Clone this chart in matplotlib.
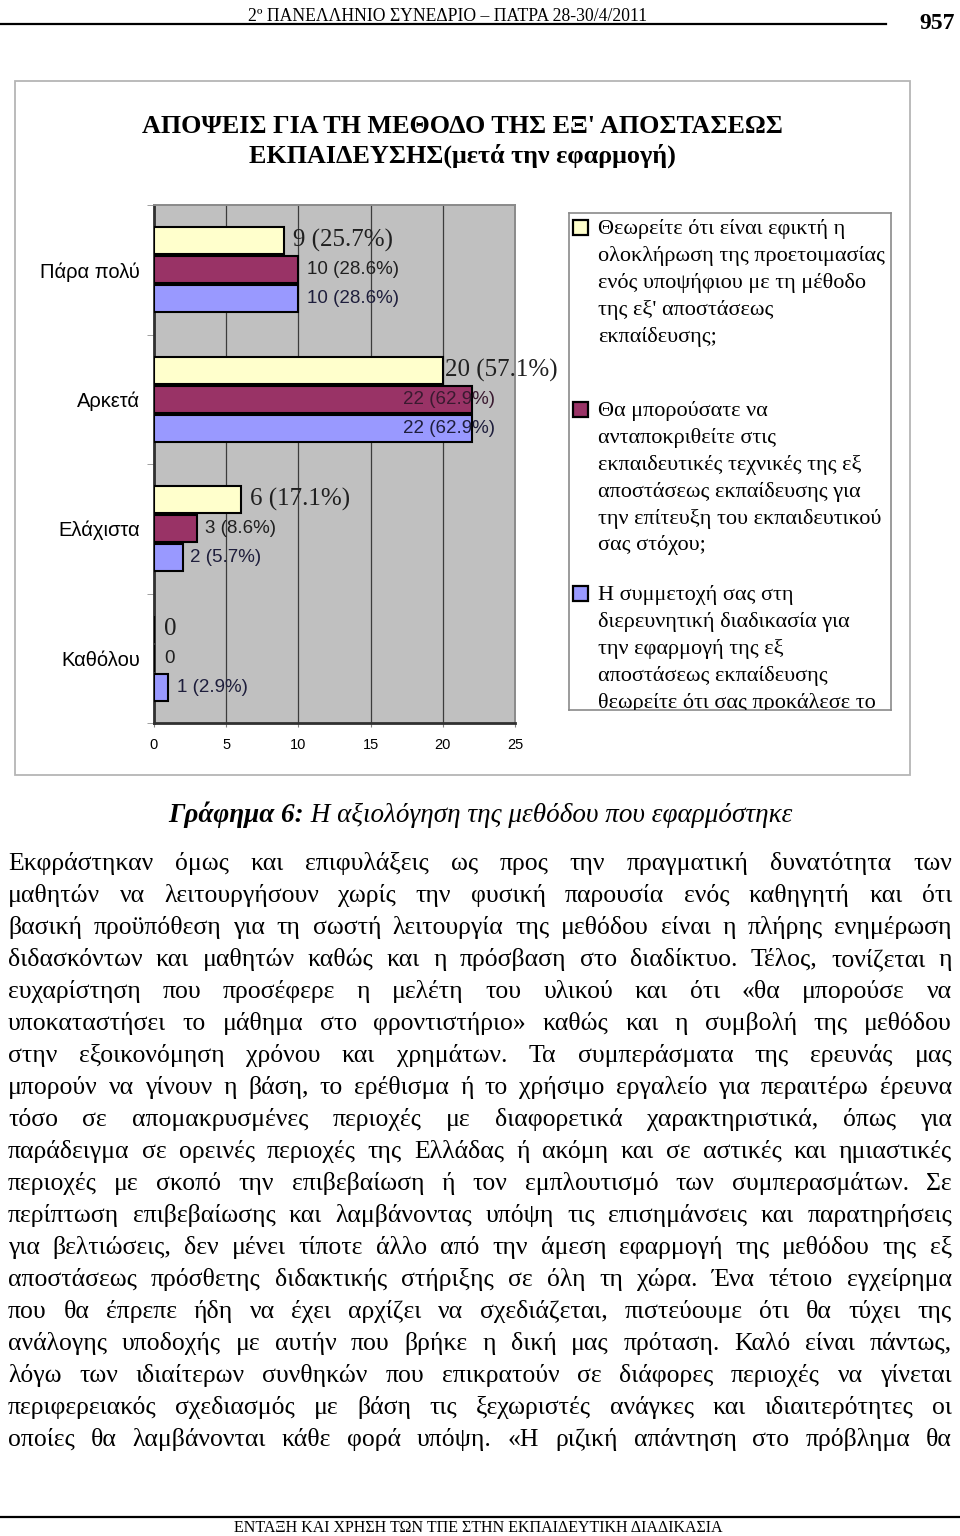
import matplotlib
matplotlib.use('Agg')
from matplotlib import pyplot as plt
from matplotlib.patches import Rectangle
from matplotlib.lines import Line2D
import numpy as np

W, H = 960, 1536
SERIF = 'Liberation Serif'
SANS = 'Liberation Sans'

# ---- chart data ----
categories = ['Πάρα πολύ', 'Αρκετά', 'Ελάχιστα', 'Καθόλου']
feasible = [9, 20, 6, 0]        # yellow series
respond = [10, 22, 3, 0]        # maroon series
challenge = [10, 22, 2, 1]      # blue series
feasible_lbl = ['9 (25.7%)', '20 (57.1%)', '6 (17.1%)', '0']
respond_lbl = ['10 (28.6%)', '22 (62.9%)', '3 (8.6%)', '0']
challenge_lbl = ['10 (28.6%)', '22 (62.9%)', '2 (5.7%)', '1 (2.9%)']
xticks = [0, 5, 10, 15, 20, 25]

chart_title = ["ΑΠΟΨΕΙΣ ΓΙΑ ΤΗ ΜΕΘΟΔΟ ΤΗΣ ΕΞ' ΑΠΟΣΤΑΣΕΩΣ",
               "ΕΚΠΑΙΔΕΥΣΗΣ(μετά την εφαρμογή)"]

legend_items = [
    ["Θεωρείτε ότι είναι εφικτή η", "ολοκλήρωση της προετοιμασίας",
     "ενός υποψήφιου με τη μέθοδο", "της εξ' αποστάσεως", "εκπαίδευσης;"],
    ["Θα μπορούσατε να", "ανταποκριθείτε στις",
     "εκπαιδευτικές τεχνικές της εξ", "αποστάσεως εκπαίδευσης για",
     "την επίτευξη του εκπαιδευτικού", "σας στόχου;"],
    ["Η συμμετοχή σας στη", "διερευνητική διαδικασία για",
     "την εφαρμογή της εξ", "αποστάσεως εκπαίδευσης",
     "θεωρείτε ότι σας προκάλεσε το"],
]

header = "2º ΠΑΝΕΛΛΗΝΙΟ ΣΥΝΕΔΡΙΟ – ΠΑΤΡΑ 28-30/4/2011"
page_no = "957"
footer = "ΕΝΤΑΞΗ ΚΑΙ ΧΡΗΣΗ ΤΩΝ ΤΠΕ ΣΤΗΝ ΕΚΠΑΙΔΕΥΤΙΚΗ ΔΙΑΔΙΚΑΣΙΑ"
caption_bold = "Γράφημα 6:"
caption_rest = " Η αξιολόγηση της μεθόδου που εφαρμόστηκε"

body_lines = [
    "Εκφράστηκαν όμως και επιφυλάξεις ως προς την πραγματική δυνατότητα των",
    "μαθητών να λειτουργήσουν χωρίς την φυσική παρουσία ενός καθηγητή και ότι",
    "βασική προϋπόθεση για τη σωστή λειτουργία της μεθόδου είναι η πλήρης ενημέρωση",
    "διδασκόντων και μαθητών καθώς και η πρόσβαση στο διαδίκτυο. Τέλος, τονίζεται η",
    "ευχαρίστηση που προσέφερε η μελέτη του υλικού και ότι «θα μπορούσε να",
    "υποκαταστήσει το μάθημα στο φροντιστήριο» καθώς και η συμβολή της μεθόδου",
    "στην εξοικονόμηση χρόνου και χρημάτων. Τα συμπεράσματα της ερευνάς μας",
    "μπορούν να γίνουν η βάση, το ερέθισμα ή το χρήσιμο εργαλείο για περαιτέρω έρευνα",
    "τόσο σε απομακρυσμένες περιοχές με διαφορετικά χαρακτηριστικά, όπως για",
    "παράδειγμα σε ορεινές περιοχές της Ελλάδας ή ακόμη και σε αστικές και ημιαστικές",
    "περιοχές με σκοπό την επιβεβαίωση ή τον εμπλουτισμό των συμπερασμάτων. Σε",
    "περίπτωση επιβεβαίωσης και λαμβάνοντας υπόψη τις επισημάνσεις και παρατηρήσεις",
    "για βελτιώσεις, δεν μένει τίποτε άλλο από την άμεση εφαρμογή της μεθόδου της εξ",
    "αποστάσεως πρόσθετης διδακτικής στήριξης σε όλη τη χώρα. Ένα τέτοιο εγχείρημα",
    "που θα έπρεπε ήδη να έχει αρχίζει να σχεδιάζεται, πιστεύουμε ότι θα τύχει της",
    "ανάλογης υποδοχής με αυτήν που βρήκε η δική μας πρόταση. Καλό είναι πάντως,",
    "λόγω των ιδιαίτερων συνθηκών που επικρατούν σε διάφορες περιοχές να γίνεται",
    "περιφερειακός σχεδιασμός με βάση τις ξεχωριστές ανάγκες και ιδιαιτερότητες οι",
    "οποίες θα λαμβάνονται κάθε φορά υπόψη. «Η ριζική απάντηση στο πρόβλημα θα",
]

colors = ['#FFFFCC', '#993366', '#9999FF']


def fx(x):
    return x / W


def fy(y):
    return 1 - y / H


fig = plt.figure(figsize=(W / 100, H / 100), dpi=100)
fig.patch.set_facecolor('white')
renderer = fig.canvas.get_renderer()

# ---- page header / footer ----
fig.text(fx(448), fy(21), header, fontsize=12.7, family=SERIF, ha='center', va='baseline')
fig.text(fx(955), fy(29), page_no, fontsize=17, family=SERIF, weight='bold', ha='right', va='baseline')
fig.add_artist(Line2D([0, fx(886)], [fy(24), fy(24)], color='black', lw=1.6))
fig.add_artist(Line2D([0, 1], [fy(1517), fy(1517)], color='black', lw=1.6))
fig.text(fx(478), fy(1532), footer, fontsize=11.5, family=SERIF, ha='center', va='baseline')

# ---- chart frame ----
fig.add_artist(Rectangle((fx(15), fy(775)), (910 - 15) / W, (775 - 81) / H,
                         transform=fig.transFigure, fill=False, ec='#b5b5b5', lw=1.3))
fig.text(fx(462), fy(133), chart_title[0], fontsize=18.8, family=SERIF, weight='bold',
         ha='center', va='baseline')
fig.text(fx(462), fy(163), chart_title[1], fontsize=18.8, family=SERIF, weight='bold',
         ha='center', va='baseline')

# ---- bar chart ----
ax = fig.add_axes([fx(154), fy(723), (515 - 154) / W, (723 - 205) / H])
ax.set_facecolor('#C0C0C0')
y = np.arange(len(categories))
step, bh = 0.224, 0.21
series = [feasible, respond, challenge]
for k, vals in enumerate(series):
    ax.barh(y + (k - 1) * step, vals, height=bh, color=colors[k], edgecolor='black',
            linewidth=1.5, zorder=3)

ax.set_xlim(0, 25)
ax.set_ylim(3.5, -0.5)
ax.set_xticks(xticks)
ax.set_xticklabels([str(t) for t in xticks], family=SANS, fontsize=10.5)
ax.tick_params(axis='x', length=3, color='#808080', pad=8)
ax.set_yticks(y)
ax.set_yticklabels(categories, family=SANS, fontsize=14.5)
ax.tick_params(axis='y', which='major', length=0, pad=10)
ax.set_yticks(np.arange(-0.5, 4, 1), minor=True)
ax.tick_params(axis='y', which='minor', length=5, color='#909090')
ax.grid(axis='x', color='#3c3c3c', linewidth=0.9, zorder=1)
ax.set_axisbelow(True)
for s in ['top', 'right']:
    ax.spines[s].set_color('#8a8a8a')
    ax.spines[s].set_linewidth(1.4)
for s in ['left', 'bottom']:
    ax.spines[s].set_color('#303030')
    ax.spines[s].set_linewidth(2)

# data labels: offset in px from bar end
off_y = [9, 2, 9, 10]
off_m = [9, -69, 8, 10]
off_b = [9, -69, 7, 9]
for i in range(len(categories)):
    ax.annotate(feasible_lbl[i], xy=(feasible[i], y[i] - step), xytext=(off_y[i] * 0.72, 0),
                textcoords='offset points', va='center', ha='left', fontsize=18,
                family=SERIF, color='#202020', zorder=5)
    ax.annotate(respond_lbl[i], xy=(respond[i], y[i]), xytext=(off_m[i] * 0.72, 0),
                textcoords='offset points', va='center', ha='left', fontsize=13.5,
                family=SANS, color='#3a1a30' if off_m[i] < 0 else '#202020', zorder=5)
    ax.annotate(challenge_lbl[i], xy=(challenge[i], y[i] + step), xytext=(off_b[i] * 0.72, 0),
                textcoords='offset points', va='center', ha='left', fontsize=13.5,
                family=SANS, color='#1e1e3c', zorder=5)

# ---- legend box (manual, clipped like the original) ----
L, T, R, B = 569, 213, 891, 710
lax = fig.add_axes([fx(L), fy(B), (R - L) / W, (B - T) / H])
lax.set_xlim(L, R)
lax.set_ylim(B, T)
lax.set_xticks([])
lax.set_yticks([])
for s in lax.spines.values():
    s.set_color('#8a8a8a')
    s.set_linewidth(1.2)
item_tops = [228, 410, 594]
line_h = 26.9
for k, lines in enumerate(legend_items):
    yc = item_tops[k]
    lax.add_patch(Rectangle((573, yc - 8), 15, 15, facecolor=colors[k], edgecolor='black', lw=1.6))
    for j, ln in enumerate(lines):
        lax.text(598, yc + j * line_h + 6, ln, fontsize=16, family=SERIF, va='baseline',
                 ha='left', clip_on=True)

# ---- caption ----
c1 = fig.text(0, fy(822), caption_bold, fontsize=19.5, family=SERIF, weight='bold',
              style='italic', va='baseline')
c2 = fig.text(0, fy(822), caption_rest, fontsize=19.5, family=SERIF, style='italic', va='baseline')
w1 = c1.get_window_extent(renderer).width
w2 = c2.get_window_extent(renderer).width
x0 = 480 - (w1 + w2) / 2
c1.set_x(fx(x0))
c2.set_x(fx(x0 + w1))

# ---- justified body text ----
left, right = 8, 952
width = right - left
base = 10.0
objs = []
for ln in body_lines:
    objs.append([fig.text(0, 0, w, fontsize=base, family=SERIF, va='baseline') for w in ln.split()])
em = base * 100 / 72
nat = []
for row in objs:
    ws = sum(t.get_window_extent(renderer).width for t in row)
    nat.append(ws + (len(row) - 1) * 0.25 * em)
size = min(base * width / max(nat), 18.5)
for row in objs:
    for t in row:
        t.set_fontsize(size)
y0, dy = 870, 32.0
for i, row in enumerate(objs):
    ws = [t.get_window_extent(renderer).width for t in row]
    gap = (width - sum(ws)) / (len(row) - 1)
    x = left
    for t, w in zip(row, ws):
        t.set_position((fx(x), fy(y0 + i * dy)))
        x += w + gap

fig.savefig('out.png', dpi=100, facecolor='white')
